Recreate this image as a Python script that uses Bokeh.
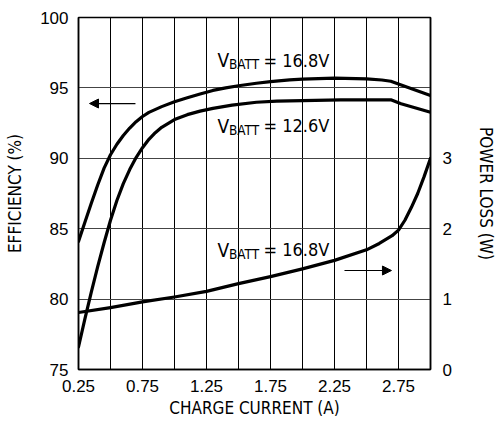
from bokeh.plotting import figure
from bokeh.models import (Range1d, LinearAxis, FixedTicker, Label, Arrow, NormalHead)
from bokeh.embed import file_html
from bokeh.resources import INLINE

# ---- data ----
current_168 = [0.25, 0.30, 0.35, 0.40, 0.45, 0.50, 0.55, 0.60, 0.65, 0.70, 0.75, 0.80, 0.90,
               1.00, 1.10, 1.20, 1.30, 1.40, 1.50, 1.64, 1.75, 1.90, 2.00, 2.25, 2.50, 2.62,
               2.69, 2.82, 3.00]
eff_168 = [84.1, 85.45, 86.8, 88.1, 89.3, 90.25, 91.0, 91.62, 92.15, 92.6, 92.97, 93.26, 93.67,
           94.02, 94.3, 94.57, 94.82, 95.0, 95.15, 95.33, 95.45, 95.57, 95.63, 95.7, 95.64, 95.56,
           95.47, 95.05, 94.46]

current_126 = [0.25, 0.30, 0.35, 0.40, 0.45, 0.50, 0.55, 0.60, 0.65, 0.70, 0.75, 0.80, 0.85,
               0.90, 1.00, 1.10, 1.20, 1.30, 1.45, 1.64, 1.80, 2.00, 2.30, 2.69, 2.77, 3.00]
eff_126 = [76.6, 78.6, 80.5, 82.3, 84.0, 85.6, 87.0, 88.2, 89.2, 90.05, 90.75, 91.35, 91.82,
           92.2, 92.75, 93.1, 93.35, 93.55, 93.78, 93.98, 94.06, 94.1, 94.15, 94.15, 93.87, 93.27]

current_loss = [0.25, 0.50, 0.75, 1.00, 1.25, 1.50, 1.75, 2.00, 2.25, 2.50, 2.60, 2.70,
                2.75, 2.80, 2.85, 2.90, 2.95, 3.00]
loss_168 = [0.81, 0.88, 0.96, 1.03, 1.11, 1.22, 1.32, 1.43, 1.55, 1.70, 1.79, 1.90,
            1.98, 2.12, 2.30, 2.50, 2.74, 3.00]

x_tick_labels = [0.25, 0.75, 1.25, 1.75, 2.25, 2.75]
x_grid_ticks = [0.25, 0.5, 0.75, 1.0, 1.25, 1.5, 1.75, 2.0, 2.25, 2.5, 2.75, 3.0]
y_ticks = [75, 80, 85, 90, 95, 100]
loss_ticks = [0, 1, 2, 3]

TICK_FONT = "Liberation Sans"
LABEL_FONT = "DejaVu Sans Condensed, Liberation Sans"

p = figure(frame_width=352, frame_height=352, output_backend="svg", toolbar_location=None,
           x_range=Range1d(0.25, 3.0), y_range=Range1d(75, 100),
           min_border_left=78, min_border_right=68, min_border_top=17, min_border_bottom=59)
p.background_fill_color = "white"
p.border_fill_color = "white"
p.outline_line_color = "black"
p.outline_line_width = 1.5

# secondary range: 0 W at 75 %, 3 W at 90 %  ->  0..5 W over the full frame
p.extra_y_ranges = {"loss": Range1d(0, 5)}

# grids
p.xgrid.ticker = FixedTicker(ticks=x_grid_ticks)
p.xgrid.grid_line_color = "black"
p.xgrid.grid_line_width = 1
p.ygrid.ticker = FixedTicker(ticks=y_ticks)
p.ygrid.grid_line_color = "#444444"
p.ygrid.grid_line_width = 1.2

def style_axis(ax, standoff):
    ax.major_tick_out = 0
    ax.major_tick_in = 0
    ax.minor_tick_out = 0
    ax.minor_tick_in = 0
    ax.axis_line_color = "black"
    ax.axis_line_width = 1.5
    ax.major_label_text_font = TICK_FONT
    ax.major_label_text_font_size = "17px"
    ax.major_label_text_color = "black"
    ax.major_label_standoff = standoff
    ax.axis_label_text_font = LABEL_FONT
    ax.axis_label_text_font_size = "17px"
    ax.axis_label_text_font_style = "normal"
    ax.axis_label_text_color = "black"

xa = p.xaxis[0]
xa.ticker = FixedTicker(ticks=x_tick_labels)
xa.axis_label = "CHARGE CURRENT (A)"
style_axis(xa, 10)
xa.axis_label_standoff = 3

ya = p.yaxis[0]
ya.ticker = FixedTicker(ticks=y_ticks)
ya.axis_label = "EFFICIENCY (%)"
style_axis(ya, 10)
ya.axis_label_standoff = 12

ra = LinearAxis(y_range_name="loss", ticker=FixedTicker(ticks=loss_ticks),
                axis_label="POWER LOSS (W)")
style_axis(ra, 12)
ra.axis_label_standoff = 21
p.add_layout(ra, "right")

# curves
p.line(current_168, eff_168, line_color="black", line_width=3.2, line_join="round", line_cap="round")
p.line(current_126, eff_126, line_color="black", line_width=3.2, line_join="round", line_cap="round")
p.line(current_loss, loss_168, y_range_name="loss", line_color="black", line_width=3.2,
       line_join="round", line_cap="round")

# curve labels: V with subscript BATT
def vbatt_label(x, y, val):
    p.add_layout(Label(x=x, y=y, y_offset=8, text="V", text_font=LABEL_FONT,
                       text_font_size="19px", text_color="black", text_baseline="alphabetic",
                       text_align="left"))
    p.add_layout(Label(x=x, y=y, x_offset=11.5, y_offset=4, text="BATT", text_font=LABEL_FONT,
                       text_font_size="13.5px", text_color="black", text_baseline="alphabetic",
                       text_align="left"))
    p.add_layout(Label(x=x, y=y, x_offset=46, y_offset=8, text="= " + val, text_font=LABEL_FONT,
                       text_font_size="18px", text_color="black", text_baseline="alphabetic",
                       text_align="left"))

vbatt_label(1.336, 96.38, "16.8V")
vbatt_label(1.336, 91.76, "12.6V")
vbatt_label(1.336, 82.95, "16.8V")

# arrows
p.add_layout(Arrow(end=NormalHead(size=9, fill_color="black", line_color="black", line_width=1),
                   x_start=0.695, y_start=93.89, x_end=0.336, y_end=93.89,
                   line_color="black", line_width=1.2))
p.add_layout(Arrow(end=NormalHead(size=9, fill_color="black", line_color="black", line_width=1),
                   x_start=2.328, y_start=82.03, x_end=2.695, y_end=82.03,
                   line_color="black", line_width=1.2))

open("out.html", "w").write(file_html(p, INLINE))
